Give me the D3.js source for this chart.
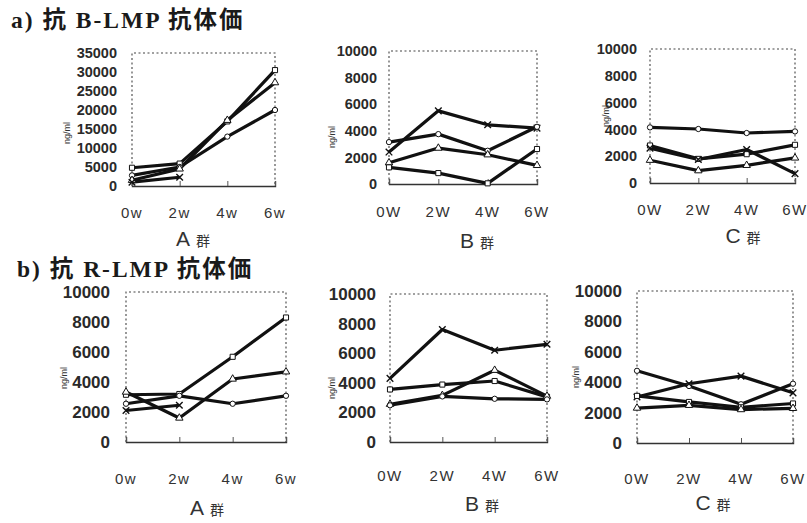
<!DOCTYPE html>
<html><head><meta charset="utf-8">
<script src="https://cdn.jsdelivr.net/npm/d3@7"></script>
<style>
html,body{margin:0;padding:0;background:#fff;}
svg{display:block;}
</style></head>
<body>
<svg id="c" width="807" height="523"></svg>
<script>
// ---------- data ----------
const weeksLower = ["0w","2w","4w","6w"];
const weeksUpper = ["0W","2W","4W","6W"];
const groups = ["A","B","C"];
const titles = ["a) 抗 B-LMP 抗体価", "b) 抗 R-LMP 抗体価"];
const ticksA = [0,5000,10000,15000,20000,25000,30000,35000];
const ticks10k = [0,2000,4000,6000,8000,10000];

// a) anti B-LMP
const aA_square   = [4800, 5900, 17000, 30500];
const aA_circle   = [2800, 5000, 13000, 20000];
const aA_triangle = [1500, 4500, 17300, 27200];
const aA_cross    = [1000, 2300, null, null];

const aB_cross    = [2400, 5500, 4450, 4200];
const aB_circle   = [3150, 3750, 2500, 4300];
const aB_triangle = [1600, 2700, 2200, 1400];
const aB_square   = [1250, 820, 50, 2630];

const aC_circle   = [4150, 4030, 3730, 3850];
const aC_square   = [2800, 1800, 2150, 2850];
const aC_cross    = [2600, 1750, 2500, 700];
const aC_triangle = [1700, 920, 1320, 1870];

// b) anti R-LMP
const bA_square   = [3150, 3200, 5680, 8300];
const bA_triangle = [3330, 1600, 4200, 4680];
const bA_circle   = [2550, 3080, 2550, 3080];
const bA_cross    = [2100, 2450, null, null];

const bB_cross    = [4300, 7600, 6200, 6600];
const bB_square   = [3550, 3880, 4120, 3050];
const bB_triangle = [2550, 3150, 4850, 3100];
const bB_circle   = [2480, 3080, 2920, 2880];

const bC_circle   = [4750, 3750, 2550, 3900];
const bC_cross    = [3030, 3900, 4400, 3300];
const bC_square   = [3100, 2700, 2350, 2600];
const bC_triangle = [2300, 2480, 2200, 2280];

// ---------- layout ----------
const panels = [
  {row:0, g:0, labels:weeksLower, ticks:ticksA, max:35000,
   series:[["square",aA_square],["circle",aA_circle],["triangle",aA_triangle],["cross",aA_cross]],
   L:132,R:275,T:53,B:186, fs:14.5, tr:117, xly:218, gx:193, gy:246, ylx:70, yly:133},
  {row:0, g:1, labels:weeksUpper, ticks:ticks10k, max:10000,
   series:[["cross",aB_cross],["circle",aB_circle],["triangle",aB_triangle],["square",aB_square]],
   L:389,R:537,T:51,B:184, fs:14.5, tr:377, xly:217, gx:477, gy:248, ylx:335, yly:137},
  {row:0, g:2, labels:weeksUpper, ticks:ticks10k, max:10000,
   series:[["circle",aC_circle],["square",aC_square],["cross",aC_cross],["triangle",aC_triangle]],
   L:650,R:795,T:49,B:183, fs:14.5, tr:637, xly:215, gx:743, gy:243, ylx:609, yly:116},
  {row:1, g:0, labels:weeksLower, ticks:ticks10k, max:10000,
   series:[["square",bA_square],["triangle",bA_triangle],["circle",bA_circle],["cross",bA_cross]],
   L:126,R:286,T:292,B:442, fs:17, tr:110, xly:484, gx:207, gy:515, ylx:67, yly:378},
  {row:1, g:1, labels:weeksUpper, ticks:ticks10k, max:10000,
   series:[["cross",bB_cross],["square",bB_square],["triangle",bB_triangle],["circle",bB_circle]],
   L:390,R:547,T:294,B:442, fs:17, tr:376, xly:481, gx:482, gy:511, ylx:335, yly:388},
  {row:1, g:2, labels:weeksUpper, ticks:ticks10k, max:10000,
   series:[["circle",bC_circle],["cross",bC_cross],["square",bC_square],["triangle",bC_triangle]],
   L:637,R:793,T:291,B:443, fs:17, tr:622, xly:484, gx:713, gy:510, ylx:579, yly:377}
];

const svg = d3.select("#c");
const ink = "#1a1a1a";

// titles
[[titles[0],11,28],[titles[1],17,277]].forEach(([t,tx,ty]) => {
  svg.append("text").attr("x",tx).attr("y",ty).text(t)
    .attr("font-family","'Liberation Serif','DejaVu Serif','Noto Sans CJK JP',serif")
    .attr("font-weight","bold").attr("font-size",23.5).attr("letter-spacing",2)
    .attr("fill",ink);
});

const symType = {circle:d3.symbolCircle, square:d3.symbolSquare, triangle:d3.symbolTriangle, cross:d3.symbolTimes};
const symSize = {circle:22, square:26, triangle:24, cross:30};

panels.forEach(p => {
  const g = svg.append("g");
  const x = d3.scalePoint().domain(p.labels).range([p.L, p.R]);
  const y = d3.scaleLinear().domain([0, p.max]).range([p.B, p.T]);

  // dotted frame: left, top, right
  g.append("path")
    .attr("d", `M${p.L},${p.B}V${p.T}H${p.R}V${p.B}`)
    .attr("fill","none").attr("stroke","#444").attr("stroke-width",1.1)
    .attr("stroke-dasharray","2,2.5");

  // bottom axis
  const xa = g.append("g").attr("transform",`translate(0,${p.B})`)
    .call(d3.axisTop(x).tickSize(5).tickFormat(""));
  xa.select(".domain").attr("stroke","#333").attr("stroke-width",1.4);
  xa.selectAll(".tick line").attr("stroke","#555");

  // x labels
  g.selectAll(".xl").data(p.labels).enter().append("text")
    .attr("x", d => x(d)).attr("y", p.xly).attr("text-anchor","middle")
    .attr("font-family","'Liberation Sans','DejaVu Sans',sans-serif")
    .attr("font-size",15).attr("letter-spacing",1.5).attr("fill","#333")
    .text(d => d);

  // y axis labels
  const ya = g.append("g").attr("transform",`translate(${p.L},0)`)
    .call(d3.axisLeft(y).tickValues(p.ticks).tickSize(0).tickPadding(p.L - p.tr).tickFormat(d3.format("d")));
  ya.select(".domain").remove();
  ya.selectAll("text").attr("font-family","'Liberation Sans','Arimo',sans-serif")
    .attr("font-size",p.fs).attr("font-weight","bold").attr("fill","#2a2a2a");

  // ng/ml
  g.append("text").attr("transform",`translate(${p.ylx},${p.yly}) rotate(-90)`)
    .attr("text-anchor","middle").attr("font-family","'Liberation Sans',sans-serif")
    .attr("font-size",9).attr("fill","#333").text("ng/ml");

  // group label
  const gl = g.append("text").attr("x",p.gx).attr("y",p.gy).attr("text-anchor","middle")
    .attr("fill","#333");
  gl.append("tspan").attr("font-family","'Liberation Sans',sans-serif").attr("font-size",21).text(groups[p.g]);
  gl.append("tspan").attr("font-family","'Noto Sans CJK JP',sans-serif").attr("font-size",14).attr("dx",6).text("群");

  const line = d3.line().defined(d => d[1] != null).x(d => x(d[0])).y(d => y(d[1]));
  p.series.forEach(([shape, vals]) => {
    const pts = vals.map((v,i) => [p.labels[i], v]);
    g.append("path").attr("d", line(pts)).attr("fill","none")
      .attr("stroke","#111").attr("stroke-width",3.2).attr("stroke-linejoin","round");
  });
  p.series.forEach(([shape, vals]) => {
    const pts = vals.map((v,i) => [p.labels[i], v]).filter(d => d[1] != null);
    g.selectAll(null).data(pts).enter().append("path")
      .attr("transform", d => `translate(${x(d[0])},${y(d[1])})`)
      .attr("d", d3.symbol().type(symType[shape]).size(symSize[shape]))
      .attr("fill", shape==="cross" ? "none" : "#fff")
      .attr("stroke","#111").attr("stroke-width", shape==="cross"?1.4:1);
  });
});
</script>
</body></html>
